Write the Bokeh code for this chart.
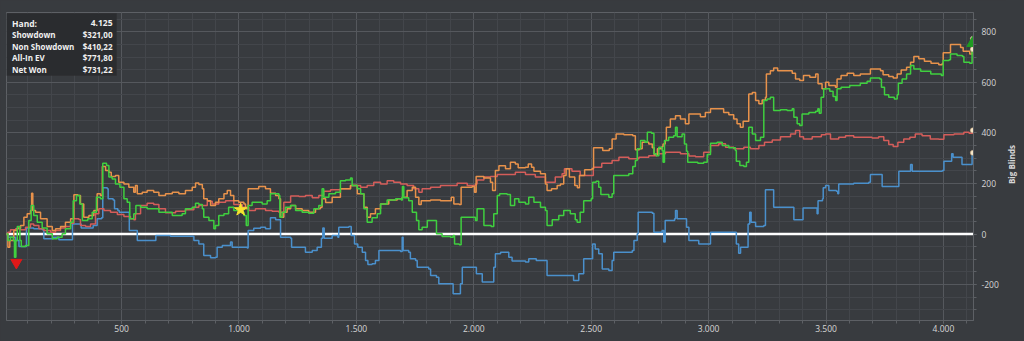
import math
from bokeh.plotting import figure
from bokeh.models import Range1d, FixedTicker, Span, Label, BoxAnnotation, Div
from bokeh.layouts import row
from bokeh.embed import file_html
from bokeh.resources import INLINE

# ---------------- data (hands, big blinds) ----------------
showdown_hands = [0, 16, 49, 63, 91, 95, 115, 126, 162, 169, 205, 209, 229, 233, 286, 291, 322, 328, 356, 379,
                  396, 415, 420, 439, 443, 464, 470, 484, 490, 527, 533, 559, 567, 640, 646, 708, 801, 808, 829,
                  850, 879, 900, 907, 929, 964, 971, 1035, 1039, 1063, 1092, 1113, 1134, 1156, 1177, 1220, 1224,
                  1255, 1283, 1312, 1333, 1351, 1357, 1363, 1397, 1421, 1425, 1468, 1478, 1492, 1506, 1525, 1539,
                  1549, 1567, 1581, 1596, 1688, 1695, 1699, 1723, 1730, 1752, 1759, 1808, 1816, 1841, 1851, 1904,
                  1912, 1936, 1943, 1951, 2003, 2011, 2036, 2074, 2085, 2092, 2114, 2135, 2149, 2163, 2220, 2234,
                  2260, 2266, 2305, 2312, 2418, 2425, 2439, 2447, 2468, 2500, 2506, 2517, 2532, 2547, 2575, 2589,
                  2596, 2675, 2682, 2696, 2700, 2760, 2767, 2802, 2809, 2815, 2855, 2859, 2866, 2897, 2906, 2916,
                  2954, 2958, 3005, 3008, 3114, 3118, 3128, 3136, 3164, 3168, 3175, 3181, 3200, 3235, 3242, 3263,
                  3277, 3356, 3363, 3398, 3402, 3459, 3462, 3466, 3485, 3488, 3498, 3512, 3544, 3550, 3554, 3618,
                  3682, 3689, 3732, 3739, 3803, 3810, 3852, 3860, 3867, 3995, 4002, 4030, 4035, 4041, 4075, 4079,
                  4115, 4122, 4125]
showdown_bb = [0, -13, -26, -49, -49, 24, 24, 21, 17, -19, -19, -13, -13, -23, -23, 40, 40, 24, 24, 34,
               60, 64, 183, 179, 139, 135, 100, 93, 86, 86, 14, 14, -26, -26, -6, -9, -9, -26, -39,
               -85, -94, -92, -52, -45, -32, -52, -55, 14, 23, 27, 21, 64, 56, -13, -17, -52,
               -52, -72, -65, -52, -17, 24, -17, -6, -13, 27, 30, -6, -39, -52, -72, -105,
               -121, -118, -105, -65, -69, -13, -65, -72, -98, -105, -131, -138, -164, -171, -197, -197,
               -236, -236, -197, -131, -131, -157, -190, -190, -131, -78, -72, -72, -92, -107, -111, -98,
               -98, -105, -105, -164, -164, -184, -184, -157, -98, -98, -39, -59, -78, -138, -144, -105,
               -72, -65, -26, 1, 86, 82, 7, 14, -32, 53, 60, 93, 60, 60, 27, -26,
               -26, -39, -39, 7, 7, -39, -76, -52, -52, 40, 86, 47, 30, 34, 175, 175,
               106, 106, 56, 56, 103, 103, 80, 132, 139, 183, 192, 172, 169, 159, 198, 201,
               205, 235, 235, 188, 188, 248, 248, 275, 248, 251, 288, 288, 317, 304, 304, 275,
               275, 321, 321]

nonshowdown_hands = [0, 16, 27, 49, 70, 91, 112, 126, 148, 169, 198, 219, 240, 261, 283, 297, 318, 325, 347, 368,
                     389, 403, 425, 453, 482, 510, 538, 552, 559, 581, 609, 637, 659, 687, 730, 772, 808, 829,
                     865, 886, 914, 943, 964, 978, 1014, 1042, 1070, 1113, 1141, 1170, 1191, 1220, 1255, 1283,
                     1312, 1340, 1361, 1390, 1432, 1475, 1518, 1546, 1574, 1603, 1631, 1659, 1688, 1716, 1744,
                     1766, 1780, 1816, 1858, 1901, 1929, 1972, 2007, 2014, 2043, 2071, 2100, 2135, 2177, 2220,
                     2262, 2305, 2347, 2376, 2386, 2418, 2453, 2495, 2509, 2545, 2589, 2618, 2660, 2703, 2745,
                     2780, 2816, 2880, 2916, 2944, 2979, 3008, 3043, 3072, 3107, 3150, 3178, 3214, 3238, 3271,
                     3306, 3349, 3370, 3388, 3404, 3441, 3480, 3498, 3519, 3554, 3583, 3618, 3661, 3696, 3724,
                     3746, 3767, 3786, 3806, 3831, 3857, 3880, 3909, 3944, 3980, 4002, 4045, 4087, 4109, 4124,
                     4125]
nonshowdown_bb = [0, 7, 17, 21, 17, 27, 40, 34, 21, 14, 7, 14, 24, 30, 43, 60, 57, 34, 30, 40,
                  80, 100, 93, 86, 77, 69, 60, 56, 80, 113, 122, 117, 100, 84, 90, 96, 106, 113,
                  130, 119, 126, 132, 132, 117, 106, 93, 100, 93, 90, 86, 126, 150, 148, 152,
                  143, 152, 169, 175, 179, 192, 185, 192, 205, 198, 211, 205, 198, 192, 179,
                  165, 179, 185, 192, 192, 201, 192, 198, 214, 225, 227, 235, 235, 244, 235,
                  225, 205, 225, 238, 258, 248, 231, 231, 264, 280, 291, 304, 298, 304, 310,
                  317, 323, 317, 309, 306, 323, 350, 357, 343, 337, 343, 337, 350, 363, 372,
                  385, 396, 409, 385, 376, 385, 393, 396, 376, 383, 389, 383, 383, 380, 385,
                  370, 354, 346, 363, 376, 383, 396, 389, 376, 375, 393, 396, 402, 398, 410,
                  410]

allin_ev_hands = [0, 16, 24, 41, 56, 70, 84, 98, 112, 117, 122, 134, 155, 183, 205, 219, 240, 261, 283, 297,
                  314, 325, 339, 361, 382, 396, 410, 418, 432, 446, 456, 474, 488, 510, 531, 552, 559, 567,
                  588, 609, 637, 659, 687, 716, 744, 772, 801, 815, 829, 844, 850, 865, 879, 900, 914, 936,
                  950, 964, 978, 999, 1021, 1028, 1039, 1063, 1084, 1113, 1134, 1156, 1170, 1177, 1191, 1205,
                  1220, 1241, 1269, 1297, 1326, 1347, 1354, 1369, 1397, 1432, 1475, 1504, 1532, 1546, 1560,
                  1581, 1603, 1638, 1674, 1695, 1716, 1738, 1752, 1766, 1776, 1816, 1858, 1904, 1915, 1938,
                  1946, 1993, 2003, 2010, 2043, 2071, 2080, 2092, 2107, 2135, 2156, 2177, 2189, 2220, 2232,
                  2246, 2256, 2284, 2305, 2312, 2331, 2355, 2369, 2383, 2393, 2407, 2430, 2441, 2450, 2472,
                  2503, 2510, 2534, 2549, 2577, 2589, 2606, 2639, 2677, 2688, 2705, 2717, 2745, 2760, 2768,
                  2782, 2802, 2806, 2815, 2820, 2837, 2859, 2880, 2901, 2916, 2944, 2965, 2986, 3008, 3043,
                  3064, 3086, 3107, 3121, 3135, 3147, 3166, 3171, 3186, 3200, 3214, 3228, 3242, 3246, 3263,
                  3277, 3294, 3334, 3356, 3370, 3388, 3404, 3431, 3456, 3466, 3483, 3498, 3512, 3540, 3547,
                  3564, 3590, 3618, 3646, 3682, 3689, 3732, 3743, 3767, 3786, 3803, 3820, 3843, 3860, 3874,
                  3895, 3919, 3947, 3980, 3995, 3999, 4024, 4030, 4062, 4073, 4084, 4112, 4122, 4125]
allin_ev_bb = [0, -52, -26, 14, 24, 34, 66, 80, 93, 161, 93, 86, 60, 30, 14, 21, 30, 47, 60, 155,
               152, 119, 66, 73, 93, 159, 152, 267, 251, 244, 227, 231, 205, 198, 185, 165, 192, 159,
               165, 172, 165, 152, 159, 165, 159, 172, 185, 202, 196, 179, 139, 132, 113, 126, 139, 159,
               172, 152, 132, 126, 119, 100, 179, 179, 188, 179, 161, 152, 139, 66, 86, 100,
               113, 100, 93, 86, 100, 106, 139, 125, 145, 179, 192, 159, 106, 66, 80,
               100, 119, 135, 139, 145, 172, 185, 145, 117, 132, 135, 132, 145, 119, 117,
               185, 188, 165, 227, 222, 205, 172, 251, 270, 258, 284, 277, 262, 264, 277,
               264, 248, 238, 198, 172, 179, 192, 198, 231, 258, 225, 192, 183, 231, 254,
               258, 341, 341, 330, 337, 376, 396, 393, 389, 333, 337, 363, 356, 341, 314,
               337, 346, 356, 370, 422, 455, 468, 455, 436, 475, 475, 464, 481, 495, 495,
               481, 472, 455, 436, 422, 446, 446, 554, 560, 528, 515, 530, 541, 633, 646,
               657, 646, 646, 636, 613, 607, 627, 620, 633, 594, 574, 600, 587, 580, 613,
               627, 636, 627, 633, 633, 653, 646, 630, 623, 617, 633, 649, 659, 679, 702,
               693, 683, 675, 669, 675, 717, 717, 749, 749, 738, 723, 712, 772, 772]

net_won_hands = [0, 16, 27, 39, 44, 50, 56, 67, 73, 91, 105, 115, 126, 141, 162, 183, 205, 226, 247, 261,
                 283, 294, 308, 322, 333, 356, 375, 393, 410, 420, 436, 446, 460, 474, 493, 510, 524, 535,
                 552, 561, 581, 609, 637, 659, 687, 716, 744, 758, 772, 801, 815, 829, 844, 850, 872, 893,
                 900, 914, 936, 956, 978, 999, 1021, 1031, 1039, 1056, 1078, 1099, 1120, 1134, 1148, 1170,
                 1174, 1184, 1198, 1220, 1241, 1269, 1297, 1319, 1340, 1354, 1361, 1383, 1411, 1432, 1454,
                 1475, 1482, 1504, 1518, 1532, 1546, 1567, 1589, 1603, 1631, 1667, 1691, 1696, 1702, 1723,
                 1738, 1756, 1766, 1780, 1802, 1830, 1841, 1865, 1901, 1912, 1918, 1938, 1946, 1986, 2007,
                 2014, 2036, 2043, 2074, 2085, 2100, 2110, 2142, 2156, 2174, 2192, 2220, 2234, 2256, 2284,
                 2305, 2312, 2334, 2362, 2383, 2411, 2432, 2440, 2453, 2468, 2500, 2506, 2521, 2532, 2541,
                 2575, 2589, 2596, 2660, 2677, 2688, 2696, 2710, 2729, 2739, 2757, 2767, 2777, 2788, 2802,
                 2806, 2812, 2830, 2851, 2859, 2866, 2887, 2897, 2906, 2911, 2954, 2979, 2994, 3008, 3036,
                 3058, 3086, 3114, 3118, 3133, 3150, 3161, 3171, 3186, 3200, 3221, 3235, 3249, 3263, 3277,
                 3306, 3334, 3356, 3363, 3377, 3388, 3398, 3427, 3456, 3465, 3471, 3479, 3490, 3498, 3516,
                 3530, 3541, 3547, 3564, 3601, 3646, 3675, 3689, 3729, 3736, 3749, 3767, 3791, 3803, 3808,
                 3824, 3843, 3860, 3874, 3903, 3946, 3991, 3999, 4024, 4030, 4058, 4081, 4087, 4112, 4122,
                 4125]
net_won_bb = [0, -26, -13, -26, -92, -26, 30, -26, -49, -45, 53, 113, 73, 47, 24, 1, -19, -13, 1, 21,
              47, 132, 152, 119, 53, 60, 86, 145, 139, 280, 271, 225, 218, 198, 185, 139, 126, 60,
              80, 113, 106, 100, 100, 86, 86, 73, 73, 80, 100, 106, 122, 117, 100, 66, 53, 21,
              34, 73, 80, 106, 93, 86, 73, 34, 113, 126, 126, 119, 132, 159, 159, 152,
              66, 86, 106, 113, 93, 86, 82, 100, 113, 179, 145, 159, 165, 211, 214,
              222, 192, 179, 159, 100, 47, 64, 80, 119, 135, 139, 135, 188, 143, 132,
              86, 53, 17, 27, 53, 53, 1, -10, -13, -6, -39, -42, 66, 66, 53,
              100, 100, 34, 30, 80, 152, 159, 156, 113, 139, 126, 119, 145, 126, 106,
              93, 34, 56, 73, 93, 80, 56, 47, 86, 132, 139, 205, 209, 185, 156,
              145, 159, 231, 238, 267, 291, 337, 370, 363, 402, 398, 317, 310, 343, 330,
              284, 370, 383, 389, 422, 385, 396, 356, 327, 284, 280, 284, 314, 359, 363,
              350, 341, 330, 288, 271, 267, 284, 422, 396, 370, 383, 528, 534, 541, 488,
              491, 488, 495, 462, 436, 429, 475, 481, 485, 495, 478, 541, 574, 574, 565,
              544, 528, 574, 580, 587, 596, 604, 617, 613, 580, 551, 541, 534, 551, 596,
              613, 633, 666, 653, 644, 633, 627, 686, 689, 712, 706, 702, 679, 675, 731,
              731]

x_ticks = [500, 1000, 1500, 2000, 2500, 3000, 3500, 4000]
x_tick_labels = ["500", "1.000", "1.500", "2.000", "2.500", "3.000", "3.500", "4.000"]
x_minor = list(range(100, 4200, 100))
y_ticks = [-200, 0, 200, 400, 600, 800]
y_tick_labels = ["-200", "0", "200", "400", "600", "800"]
y_minor = list(range(-300, 900, 50))
y_axis_title = "Big Blinds"

worst_hand, worst_bb = [52], [-113]
star_hand, star_bb = [1007], [96]
best_hand, best_bb = [4125], [755]

legend_names = ["Hand:", "Showdown", "Non Showdown", "All-In EV", "Net Won"]
legend_values = ["4.125", "$321,00", "$410,22", "$771,80", "$731,22"]

# ---------------- style ----------------
BG = "#383b3f"
MINOR = "#43464b"
MAJOR = "#55585d"
FRAME = "#5d6065"
TXT = "#d6d6d6"
C_BLUE = "#4a90cc"
C_RED = "#d45d5a"
C_ORANGE = "#e8924b"
C_GREEN = "#3fcf3f"
FONT = "Open Sans"

p = figure(width=1006, height=341, output_backend="svg", toolbar_location=None,
           x_range=Range1d(10, 4128), y_range=Range1d(-342, 876),
           y_axis_location="right",
           min_border_left=6, min_border_right=33, min_border_top=12, min_border_bottom=21,
           background_fill_color=BG, border_fill_color=BG, margin=0)
p.outline_line_color = FRAME
p.outline_line_width = 1

# grids
p.xgrid.ticker = FixedTicker(ticks=x_ticks, minor_ticks=x_minor)
p.ygrid.ticker = FixedTicker(ticks=y_ticks, minor_ticks=y_minor)
for g in (p.xgrid, p.ygrid):
    g.grid_line_color = MAJOR
    g.grid_line_width = 1
    g.minor_grid_line_color = MINOR
    g.minor_grid_line_width = 1

# axes
p.xaxis.ticker = FixedTicker(ticks=x_ticks, minor_ticks=x_minor)
p.xaxis.major_label_overrides = dict(zip(x_ticks, x_tick_labels))
p.yaxis.ticker = FixedTicker(ticks=y_ticks, minor_ticks=y_minor)
p.yaxis.major_label_overrides = dict(zip(y_ticks, y_tick_labels))
for ax in (p.xaxis, p.yaxis):
    ax.axis_line_color = FRAME
    ax.major_tick_line_color = FRAME
    ax.minor_tick_line_color = FRAME
    ax.major_tick_in = 0
    ax.minor_tick_in = 0
    ax.major_tick_out = 3
    ax.minor_tick_out = 3
    ax.major_label_text_color = TXT
    ax.major_label_text_font = FONT
    ax.major_label_text_font_size = "8.5px"
p.xaxis.major_label_standoff = 1
p.yaxis.major_label_standoff = 5

p.add_layout(Span(location=0, dimension="width", line_color="white", line_width=2.5, level="underlay"))

for hs, vs, col in ((showdown_hands, showdown_bb, C_BLUE),
                    (nonshowdown_hands, nonshowdown_bb, C_RED),
                    (allin_ev_hands, allin_ev_bb, C_ORANGE),
                    (net_won_hands, net_won_bb, C_GREEN)):
    p.step(hs, vs, mode="after", line_color=col, line_width=1.5)

# end dots
p.scatter([showdown_hands[-1], nonshowdown_hands[-1], allin_ev_hands[-1], net_won_hands[-1]],
          [showdown_bb[-1], nonshowdown_bb[-1], allin_ev_bb[-1], net_won_bb[-1]],
          size=5, fill_color="#f6e7c9", line_color="#c9a77a", line_width=0.5)

p.scatter(worst_hand, worst_bb, marker="inverted_triangle", size=11, fill_color="#e01818", line_color="#e01818")
p.scatter(star_hand, star_bb, marker="star", size=13, fill_color="#f7e22e", line_color="#f7e22e")
p.scatter(best_hand, best_bb, marker="triangle", size=12, fill_color="#1f9a22", line_color="#1f9a22")

# info box
p.add_layout(BoxAnnotation(left=0, right=110, bottom=245, top=307,
                           left_units="screen", right_units="screen",
                           bottom_units="screen", top_units="screen",
                           fill_color="#2a2c2f", fill_alpha=1.0, line_color="#2a2c2f", level="annotation"))
row_y = [297.5, 286, 274.5, 263, 251]
for i, (nm, vl) in enumerate(zip(legend_names, legend_values)):
    fs = "8.5px" if i == 0 else "8px"
    p.add_layout(Label(x=5.5, y=row_y[i], x_units="screen", y_units="screen", text=nm,
                       text_align="left", text_baseline="middle", text_color="#f0f0f0",
                       text_font=FONT, text_font_size=fs, text_font_style="bold"))
    p.add_layout(Label(x=106, y=row_y[i], x_units="screen", y_units="screen", text=vl,
                       text_align="right", text_baseline="middle", text_color="#f0f0f0",
                       text_font=FONT, text_font_size=fs, text_font_style="bold"))

# vertical axis title, reading bottom-to-top, in a narrow strip right of the figure
title_div = Div(text=y_axis_title, width=18, height=341, margin=0,
                styles={"background-color": BG, "color": TXT, "font-family": FONT,
                        "font-size": "8px", "font-weight": "bold", "line-height": "11px",
                        "writing-mode": "vertical-rl", "transform": "rotate(180deg)",
                        "text-align": "center", "padding-top": "11px", "box-sizing": "border-box"})

layout = row(p, title_div, spacing=0, margin=0)
layout.styles = {"background-color": BG}

open("out.html", "w").write(file_html(layout, INLINE))
